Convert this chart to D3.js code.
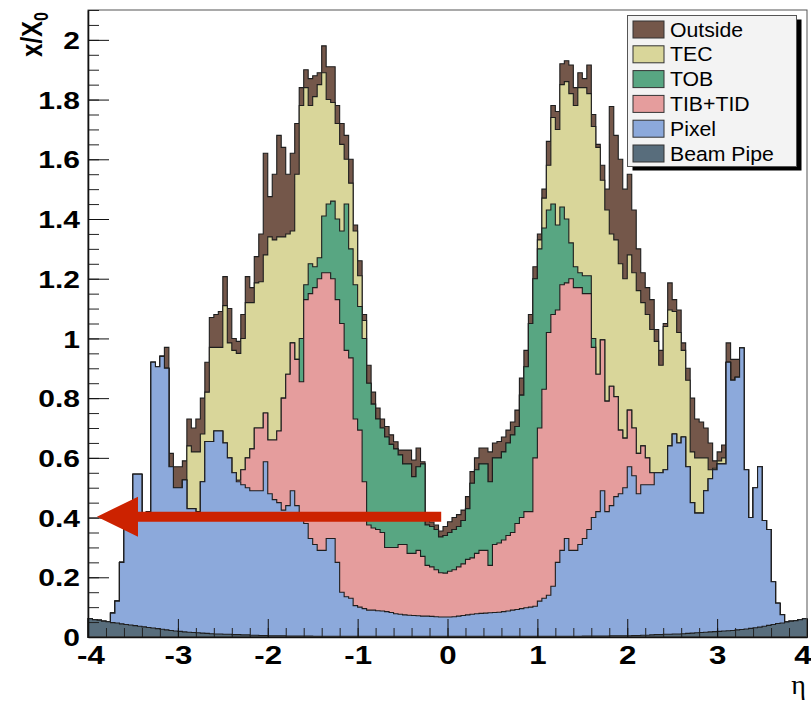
<!DOCTYPE html>
<html><head><meta charset="utf-8">
<script src="https://cdn.jsdelivr.net/npm/d3@7"></script>
<style>html,body{margin:0;padding:0;background:#fff;} svg{display:block;}</style>
</head><body>
<svg id="chart" width="811" height="701"></svg>
<script>
// ---- data: eta bins of width 0.05 from -4 to 4 (160 bins); stacked top of each layer, as read ----
const etaMin = -4, etaMax = 4, binWidth = 0.05, nBins = 160;

const beamPipeTop = [
 0.061,0.058,0.056,0.053,0.051,0.048,0.047,0.044,0.042,0.040,
 0.038,0.036,0.034,0.032,0.030,0.028,0.026,0.024,0.022,0.020,
 0.019,0.017,0.016,0.015,0.014,0.013,0.012,0.011,0.010,0.010,
 0.009,0.009,0.008,0.008,0.007,0.007,0.006,0.006,0.005,0.005,
 0.004,0.004,0.004,0.004,0.003,0.003,0.003,0.003,0.003,0.003,
 0.002,0.002,0.002,0.002,0.002,0.002,0.002,0.002,0.002,0.002,
 0.002,0.002,0.002,0.002,0.002,0.002,0.002,0.002,0.002,0.002,
 0.002,0.002,0.002,0.002,0.002,0.002,0.002,0.002,0.002,0.002,
 0.002,0.002,0.002,0.002,0.002,0.002,0.002,0.002,0.002,0.002,
 0.002,0.002,0.002,0.002,0.002,0.002,0.002,0.002,0.002,0.002,
 0.002,0.002,0.002,0.002,0.002,0.002,0.002,0.002,0.002,0.002,
 0.003,0.003,0.003,0.003,0.003,0.003,0.004,0.004,0.004,0.004,
 0.004,0.005,0.005,0.006,0.006,0.007,0.008,0.008,0.009,0.009,
 0.010,0.010,0.011,0.012,0.013,0.014,0.015,0.016,0.017,0.018,
 0.019,0.020,0.021,0.022,0.024,0.025,0.027,0.029,0.031,0.033,
 0.036,0.039,0.042,0.045,0.047,0.050,0.053,0.055,0.058,0.061];

const pixelTop = [
 0.061,0.058,0.056,0.053,0.051,0.08,0.12,0.25,0.38,0.40,
 0.545,0.545,0.40,0.42,0.92,0.905,0.94,0.90,0.57,0.50,
 0.50,0.526,0.43,0.43,0.42,0.52,0.655,0.655,0.69,0.69,
 0.65,0.60,0.55,0.52,0.51,0.50,0.49,0.49,0.49,0.587,
 0.48,0.46,0.45,0.425,0.44,0.49,0.44,0.39,0.38,0.33,
 0.31,0.29,0.29,0.33,0.33,0.25,0.15,0.135,0.13,0.105,
 0.10,0.095,0.09,0.09,0.088,0.087,0.085,0.082,0.078,0.076,
 0.074,0.073,0.072,0.071,0.07,0.07,0.069,0.068,0.067,0.067,
 0.067,0.068,0.07,0.072,0.074,0.076,0.078,0.079,0.08,0.081,
 0.082,0.083,0.085,0.087,0.09,0.092,0.095,0.098,0.10,0.103,
 0.12,0.13,0.14,0.17,0.25,0.29,0.33,0.29,0.29,0.31,
 0.33,0.36,0.40,0.42,0.49,0.42,0.44,0.47,0.48,0.50,
 0.57,0.54,0.48,0.51,0.51,0.51,0.55,0.55,0.56,0.64,
 0.68,0.65,0.67,0.57,0.45,0.415,0.415,0.49,0.53,0.56,
 0.58,0.58,0.92,0.86,0.87,0.968,0.56,0.40,0.50,0.57,
 0.39,0.36,0.185,0.113,0.075,0.050,0.053,0.055,0.058,0.061];

const tibTop = [
 0.061,0.058,0.056,0.053,0.051,0.08,0.12,0.25,0.38,0.40,
 0.545,0.545,0.40,0.42,0.92,0.905,0.94,0.90,0.57,0.50,
 0.50,0.526,0.43,0.43,0.42,0.52,0.655,0.655,0.69,0.69,
 0.65,0.60,0.55,0.525,0.56,0.60,0.63,0.70,0.70,0.75,
 0.66,0.66,0.69,0.80,0.88,0.985,0.93,0.855,1.13,1.15,
 1.17,1.20,1.22,1.22,1.20,1.13,1.05,0.96,0.935,0.73,
 0.693,0.52,0.375,0.365,0.36,0.35,0.30,0.30,0.30,0.31,
 0.31,0.28,0.28,0.29,0.27,0.24,0.235,0.225,0.215,0.214,
 0.22,0.225,0.235,0.245,0.26,0.265,0.28,0.29,0.29,0.24,
 0.31,0.315,0.325,0.34,0.35,0.38,0.40,0.42,0.42,0.60,
 0.70,0.83,1.02,1.08,1.095,1.18,1.186,1.20,1.17,1.17,
 1.15,1.15,0.97,0.88,0.995,0.79,0.84,0.805,0.693,0.666,
 0.76,0.70,0.615,0.64,0.60,0.55,0.55,0.55,0.56,0.64,
 0.68,0.65,0.67,0.57,0.45,0.415,0.415,0.49,0.53,0.56,
 0.58,0.58,0.92,0.86,0.87,0.968,0.56,0.40,0.50,0.57,
 0.39,0.36,0.185,0.113,0.075,0.050,0.053,0.055,0.058,0.061];

const tobTop = [
 0.061,0.058,0.056,0.053,0.051,0.08,0.12,0.25,0.38,0.40,
 0.545,0.545,0.40,0.42,0.92,0.905,0.94,0.90,0.57,0.50,
 0.50,0.526,0.43,0.43,0.42,0.52,0.655,0.655,0.69,0.69,
 0.65,0.60,0.55,0.525,0.56,0.60,0.63,0.70,0.70,0.75,
 0.66,0.66,0.69,0.80,0.88,0.985,0.93,1.0,1.18,1.25,
 1.24,1.27,1.41,1.45,1.46,1.40,1.36,1.45,1.30,1.18,
 1.107,1.0,0.85,0.78,0.73,0.70,0.67,0.645,0.63,0.61,
 0.58,0.58,0.537,0.57,0.58,0.375,0.37,0.36,0.335,0.34,
 0.35,0.36,0.37,0.39,0.43,0.515,0.56,0.58,0.58,0.52,
 0.60,0.60,0.62,0.65,0.677,0.705,0.81,0.905,1.05,1.20,
 1.30,1.37,1.43,1.45,1.38,1.44,1.40,1.32,1.24,1.22,
 1.21,1.21,1.0,0.88,0.995,0.79,0.84,0.805,0.693,0.666,
 0.76,0.70,0.615,0.64,0.60,0.55,0.55,0.55,0.56,0.64,
 0.68,0.65,0.67,0.57,0.45,0.415,0.415,0.49,0.53,0.56,
 0.58,0.58,0.92,0.86,0.87,0.968,0.56,0.40,0.50,0.57,
 0.39,0.36,0.185,0.113,0.075,0.050,0.053,0.055,0.058,0.061];

const tecTop = [
 0.061,0.058,0.056,0.053,0.051,0.08,0.12,0.25,0.38,0.40,
 0.545,0.545,0.40,0.42,0.92,0.905,0.94,0.90,0.57,0.50,
 0.50,0.526,0.64,0.62,0.62,0.68,0.82,0.97,0.97,0.97,
 1.11,0.985,0.96,0.95,1.0,1.12,1.12,1.186,1.19,1.28,
 1.34,1.33,1.34,1.34,1.35,1.36,1.55,1.78,1.84,1.78,
 1.81,1.85,1.89,1.80,1.79,1.72,1.65,1.60,1.52,1.36,
 1.21,1.06,0.85,0.78,0.73,0.70,0.67,0.645,0.63,0.61,
 0.58,0.58,0.537,0.57,0.58,0.375,0.37,0.36,0.335,0.34,
 0.35,0.36,0.37,0.39,0.43,0.515,0.56,0.58,0.58,0.52,
 0.60,0.60,0.62,0.65,0.677,0.705,0.81,0.905,1.05,1.20,
 1.33,1.47,1.58,1.74,1.70,1.85,1.86,1.82,1.78,1.84,
 1.84,1.82,1.71,1.64,1.53,1.43,1.35,1.33,1.25,1.20,
 1.28,1.22,1.16,1.12,1.08,1.03,0.99,0.91,1.04,1.095,
 1.09,1.02,0.96,0.86,0.62,0.60,0.60,0.60,0.56,0.565,
 0.59,0.60,0.92,0.86,0.87,0.968,0.56,0.40,0.50,0.57,
 0.39,0.36,0.185,0.113,0.075,0.050,0.053,0.055,0.058,0.061];

const outsideTop = [
 0.061,0.058,0.056,0.053,0.051,0.08,0.12,0.25,0.38,0.40,
 0.545,0.545,0.40,0.42,0.92,0.905,0.94,0.97,0.615,0.57,
 0.57,0.59,0.73,0.70,0.73,0.80,0.92,1.07,1.08,1.09,
 1.207,1.10,1.0,0.99,1.08,1.207,1.17,1.274,1.35,1.62,
 1.475,1.55,1.68,1.64,1.55,1.62,1.72,1.84,1.90,1.87,
 1.88,1.89,1.98,1.91,1.91,1.78,1.72,1.68,1.60,1.38,
 1.26,1.08,0.91,0.82,0.767,0.73,0.705,0.677,0.654,0.626,
 0.626,0.626,0.593,0.633,0.587,0.39,0.385,0.375,0.355,0.37,
 0.386,0.40,0.41,0.425,0.47,0.554,0.60,0.633,0.633,0.62,
 0.65,0.655,0.67,0.693,0.72,0.76,0.867,0.96,1.08,1.24,
 1.35,1.50,1.66,1.78,1.76,1.92,1.93,1.916,1.84,1.89,
 1.87,1.916,1.75,1.65,1.58,1.50,1.777,1.68,1.60,1.50,
 1.55,1.43,1.30,1.22,1.17,1.13,1.03,0.96,1.05,1.186,
 1.13,1.095,0.985,0.90,0.80,0.73,0.72,0.70,0.65,0.59,
 0.62,0.643,0.985,0.93,0.93,0.968,0.56,0.40,0.50,0.57,
 0.39,0.36,0.185,0.113,0.075,0.050,0.053,0.055,0.058,0.061];

const legendLabels = ["Outside","TEC","TOB","TIB+TID","Pixel","Beam Pipe"];
const layerColors  = ["#74574a","#d9d69a","#58a682","#e59d9d","#8ca9db","#586d7c"];

const yTickValues = [0,0.2,0.4,0.6,0.8,1,1.2,1.4,1.6,1.8,2];
const yTickLabels = ["0","0.2","0.4","0.6","0.8","1","1.2","1.4","1.6","1.8","2"];
const yMinorTicks = d3.range(0, 2.1001, 0.05);
const xTickValues = [-4,-3,-2,-1,0,1,2,3,4];
const xTickLabels = ["-4","-3","-2","-1","0","1","2","3","4"];
const xMinorTicks = d3.range(-4, 4.0001, 0.2);

const arrowLevel = 0.403, arrowFrom = -0.07, arrowTo = -3.9;

// ---- drawing ----
const W = 811, H = 701;
const svg = d3.select("#chart");
svg.append("rect").attr("width", W).attr("height", H).attr("fill", "#fff");

const x = d3.scaleLinear().domain([etaMin, etaMax]).range([88, 807]);
const y = d3.scaleLinear().domain([0, 2.1]).range([637, 10]);

const edges = d3.range(nBins + 1).map(i => etaMin + i * binWidth);
function stepPoints(vals) {
  const pts = [];
  vals.forEach((v, i) => { pts.push([edges[i], v]); pts.push([edges[i + 1], v]); });
  return pts;
}
const area = d3.area().x(d => x(d[0])).y0(y(0)).y1(d => y(d[1]));

const layerTops = [outsideTop, tecTop, tobTop, tibTop, pixelTop, beamPipeTop];
const gHist = svg.append("g");
layerTops.forEach((top, k) => {
  gHist.append("path")
    .attr("d", area(stepPoints(top)) + "Z")
    .attr("fill", layerColors[k])
    .attr("stroke", "#1e1e1e")
    .attr("stroke-width", 1.1)
    .attr("stroke-linejoin", "miter");
});

// frame
svg.append("rect").attr("x", 88).attr("y", 10).attr("width", 719).attr("height", 627)
  .attr("fill", "none").attr("stroke", "#555").attr("stroke-width", 1);

const fontFam = "'Liberation Sans', Arial, Helvetica, sans-serif";
const SX = 1.25;

// minor ticks
svg.append("g").attr("transform", "translate(88,0)")
  .call(d3.axisLeft(y).tickValues(yMinorTicks).tickSize(-11).tickSizeOuter(0).tickFormat(""))
  .call(g => g.select(".domain").remove())
  .attr("color", "#222");
svg.append("g").attr("transform", "translate(0,637)")
  .call(d3.axisBottom(x).tickValues(xMinorTicks).tickSize(-9).tickSizeOuter(0).tickFormat(""))
  .call(g => g.select(".domain").remove())
  .attr("color", "#222");

// major ticks + labels
const yAxisG = svg.append("g").attr("transform", "translate(88,0)")
  .call(d3.axisLeft(y).tickValues(yTickValues).tickSize(-21).tickSizeOuter(0).tickPadding(8)
        .tickFormat((d, i) => yTickLabels[i]))
  .attr("color", "#111").attr("font-family", fontFam).attr("font-size", 24).attr("font-weight", "bold");
yAxisG.select(".domain").attr("stroke-width", 1.6);
yAxisG.selectAll(".tick text").attr("fill", "#000")
  .attr("x", -8 / SX).attr("dy", "0.36em").attr("transform", `scale(${SX},1)`);

const xAxisG = svg.append("g").attr("transform", "translate(0,637)")
  .call(d3.axisBottom(x).tickValues(xTickValues).tickSize(-18).tickSizeOuter(0).tickPadding(9)
        .tickFormat((d, i) => xTickLabels[i]))
  .attr("color", "#111").attr("font-family", fontFam).attr("font-size", 25).attr("font-weight", "bold");
xAxisG.select(".domain").attr("stroke-width", 1.6);
xAxisG.selectAll(".tick text").attr("fill", "#000").attr("transform", `scale(${SX},1)`)
  .attr("x", (d, i) => i === 0 ? 2.5 / SX : (i === xTickValues.length - 1 ? -4.5 / SX : 0));

// axis titles
const yt = svg.append("text")
  .attr("transform", `translate(42,12) scale(${SX},1) rotate(-90)`)
  .attr("text-anchor", "end").attr("font-family", fontFam).attr("font-weight", "bold")
  .attr("font-size", 24).attr("fill", "#000");
yt.append("tspan").text("x/X");
yt.append("tspan").attr("font-size", 16).attr("dy", 5).text("0");

svg.append("text").attr("x", 806).attr("y", 694).attr("text-anchor", "end")
  .attr("font-family", "'Liberation Serif', 'Times New Roman', serif")
  .attr("font-size", 28).attr("fill", "#000").text("η");

// red arrow
const ay = y(arrowLevel), ax0 = x(arrowFrom), ax1 = x(arrowTo);
const headLen = 41, headHalf = 20, shaftHalf = 5;
svg.append("polygon")
  .attr("points", [
    [ax0, ay - shaftHalf], [ax1 + headLen, ay - shaftHalf], [ax1 + headLen, ay - headHalf],
    [ax1, ay], [ax1 + headLen, ay + headHalf], [ax1 + headLen, ay + shaftHalf], [ax0, ay + shaftHalf]
  ].map(p => p.join(",")).join(" "))
  .attr("fill", "#cc2200");

// legend
const lg = svg.append("g");
const lx = 627.5, ly = 15.5, lw = 169, lh = 151;
lg.append("rect").attr("x", lx + 5).attr("y", ly + 4).attr("width", lw).attr("height", lh).attr("fill", "#000");
lg.append("rect").attr("x", lx).attr("y", ly).attr("width", lw).attr("height", lh)
  .attr("fill", "#f3f3f3").attr("stroke", "#555").attr("stroke-width", 1);
legendLabels.forEach((lab, i) => {
  const cy = 29.5 + i * 24.8;
  lg.append("rect").attr("x", 633).attr("y", cy - 8.5).attr("width", 31).attr("height", 17)
    .attr("fill", layerColors[i]).attr("stroke", "#333").attr("stroke-width", 1);
  lg.append("text").attr("transform", `translate(670,${cy + 7}) scale(1.09,1)`)
    .attr("font-family", fontFam).attr("font-size", 19.5).attr("fill", "#000").text(lab);
});
</script>
</body></html>
